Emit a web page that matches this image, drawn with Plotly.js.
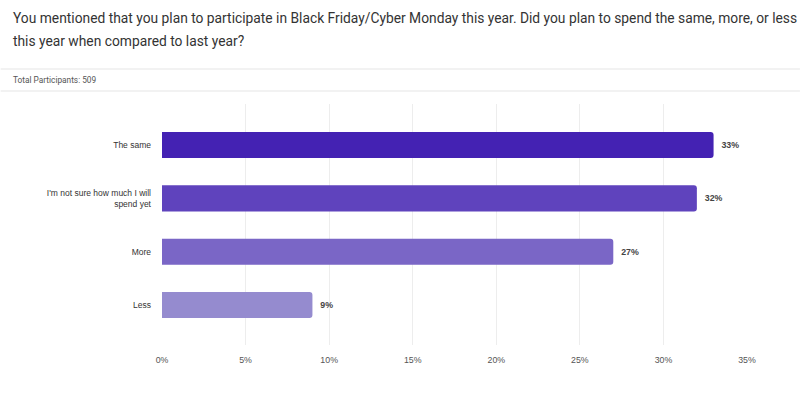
<!DOCTYPE html>
<html>
<head>
<meta charset="utf-8">
<script src="https://cdn.plot.ly/plotly-3.0.1.min.js"></script>
<style>
html,body{margin:0;padding:0;background:#fff;}
#chart{width:800px;height:412px;}
</style>
</head>
<body>
<div id="chart"></div>
<script>
const categories = ["The same", "I'm not sure how much I will<br>spend yet", "More", "Less"];
const values = [33, 32, 27, 9];
const valueLabels = ["33%", "32%", "27%", "9%"];
const barColors = ["#4422b3", "#5f43bd", "#7a66c6", "#958bcf"];
const tickVals = [0, 5, 10, 15, 20, 25, 30, 35];
const tickText = ["0%", "5%", "10%", "15%", "20%", "25%", "30%", "35%"];
const titleLine1 = "You mentioned that you plan to participate in Black Friday/Cyber Monday this year. Did you plan to spend the same, more, or less";
const titleLine2 = "this year when compared to last year?";
const subText = "Total Participants: 509";

const W = 800, H = 412;
const mL = 161.5, mR = 53, mT = 104, mB = 67;
const pw = W - mL - mR, ph = H - mT - mB;
function px2paperY(py){ return (H - mB - py) / ph; }
function px2paperX(px){ return (px - mL) / pw; }

const trace = {
  type: 'bar',
  orientation: 'h',
  y: categories,
  x: values,
  text: valueLabels,
  texttemplate: '\u00a0\u00a0%{text}',
  textposition: 'outside',
  cliponaxis: false,
  textfont: {family: 'Liberation Sans, Arial, sans-serif', size: 8.8, color: '#444', weight: 'bold'},
  marker: {color: barColors, cornerradius: 3},
  width: 0.49,
  hoverinfo: 'none'
};

const titleFont = {family: 'Roboto, sans-serif', size: 13.8, color: '#333'};

const layout = {
  width: W, height: H,
  margin: {l: mL, r: mR, t: mT, b: mB, pad: 0},
  paper_bgcolor: '#fff',
  plot_bgcolor: '#fff',
  showlegend: false,
  font: {family: 'Liberation Sans, Arial, sans-serif', color: '#333'},
  xaxis: {
    range: [0, 35],
    tickvals: tickVals,
    ticktext: tickText,
    showgrid: true,
    gridcolor: '#ededed',
    gridwidth: 1,
    zeroline: false,
    showline: false,
    ticks: '',
    ticklabelstandoff: 8,
    tickfont: {family: 'Liberation Sans, Arial, sans-serif', size: 8.8, color: '#555'},
    fixedrange: true
  },
  yaxis: {
    type: 'category',
    categoryorder: 'array',
    categoryarray: categories,
    range: [3.75, -0.77],
    showgrid: false,
    zeroline: false,
    showline: false,
    ticks: '',
    ticklabelstandoff: 10,
    tickfont: {family: 'Liberation Sans, Arial, sans-serif', size: 8.5, color: '#333'},
    fixedrange: true
  },
  annotations: [
    {
      text: titleLine1,
      xref: 'paper', yref: 'paper',
      x: px2paperX(10), y: px2paperY(18),
      xanchor: 'left', yanchor: 'middle', align: 'left',
      showarrow: false,
      font: titleFont
    },
    {
      text: titleLine2,
      xref: 'paper', yref: 'paper',
      x: px2paperX(10), y: px2paperY(41),
      xanchor: 'left', yanchor: 'middle', align: 'left',
      showarrow: false,
      font: titleFont
    },
    {
      text: subText,
      xref: 'paper', yref: 'paper',
      x: px2paperX(10), y: px2paperY(80),
      xanchor: 'left', yanchor: 'middle', align: 'left',
      showarrow: false,
      font: {family: 'Roboto, sans-serif', size: 8.3, color: '#555'}
    }
  ],
  shapes: [
    {type: 'line', xref: 'paper', yref: 'paper', x0: px2paperX(0), x1: px2paperX(800), y0: px2paperY(69), y1: px2paperY(69), line: {color: '#eeeeee', width: 1.5}},
    {type: 'line', xref: 'paper', yref: 'paper', x0: px2paperX(0), x1: px2paperX(800), y0: px2paperY(91), y1: px2paperY(91), line: {color: '#eeeeee', width: 1.5}}
  ]
};

Plotly.newPlot('chart', [trace], layout, {displayModeBar: false, staticPlot: true});
</script>
</body>
</html>
